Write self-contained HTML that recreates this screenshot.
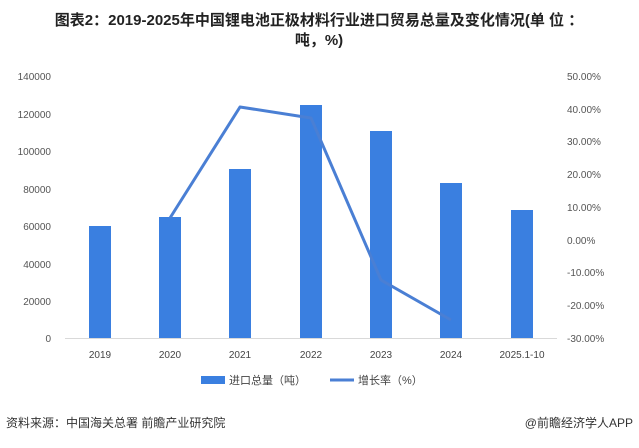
<!DOCTYPE html>
<html><head><meta charset="utf-8"><style>
body{margin:0;background:#fff;width:639px;height:443px;overflow:hidden;font-family:"Liberation Sans","Noto Sans CJK SC",sans-serif}
</style></head><body>
<svg width="639" height="443" xmlns="http://www.w3.org/2000/svg" font-family="Liberation Sans, Noto Sans CJK SC, sans-serif">
<text x="319" y="25" text-anchor="middle" font-size="15" font-weight="bold" fill="#222">图表2：2019-2025年中国锂电池正极材料行业进口贸易总量及变化情况(单 位 ：</text>
<text x="319" y="45" text-anchor="middle" font-size="15" font-weight="bold" fill="#222">吨，%)</text>
<g font-size="10" fill="#555" text-anchor="end">
<text x="51" y="80">140000</text><text x="51" y="118">120000</text><text x="51" y="155">100000</text><text x="51" y="193">80000</text><text x="51" y="230">60000</text><text x="51" y="268">40000</text><text x="51" y="305">20000</text><text x="51" y="342">0</text>
</g>
<g font-size="10" fill="#555" text-anchor="start">
<text x="567" y="80">50.00%</text><text x="567" y="113">40.00%</text><text x="567" y="145">30.00%</text><text x="567" y="178">20.00%</text><text x="567" y="211">10.00%</text><text x="567" y="244">0.00%</text><text x="567" y="276">-10.00%</text><text x="567" y="309">-20.00%</text><text x="567" y="342">-30.00%</text>
</g>
<line x1="65" y1="338.5" x2="557" y2="338.5" stroke="#d9d9d9"/>
<g fill="#3a7fe0">
<rect x="89" y="226" width="22" height="112"/>
<rect x="159" y="217" width="22" height="121"/>
<rect x="229" y="169" width="22" height="169"/>
<rect x="300" y="105" width="22" height="233"/>
<rect x="370" y="131" width="22" height="207"/>
<rect x="440" y="183" width="22" height="155"/>
<rect x="511" y="210" width="22" height="128"/>
</g>
<polyline points="170,218 240,107 311,118 381,280 451,320" fill="none" stroke="#4a7fd4" stroke-width="3" stroke-linejoin="round"/>
<g font-size="10" fill="#444" text-anchor="middle">
<text x="100" y="358">2019</text><text x="170" y="358">2020</text><text x="240" y="358">2021</text><text x="311" y="358">2022</text><text x="381" y="358">2023</text><text x="451" y="358">2024</text><text x="522" y="358">2025.1-10</text>
</g>
<rect x="201" y="376" width="24" height="8" fill="#3a7fe0"/>
<text x="229" y="384" font-size="11" fill="#444">进口总量（吨）</text>
<line x1="330" y1="380" x2="354" y2="380" stroke="#4a7fd4" stroke-width="3"/>
<text x="358" y="384" font-size="11" fill="#444">增长率（%）</text>
<text x="6" y="427" font-size="12" fill="#333">资料来源：中国海关总署 前瞻产业研究院</text>
<text x="633" y="427" font-size="12" fill="#333" text-anchor="end">@前瞻经济学人APP</text>
</svg>
</body></html>
